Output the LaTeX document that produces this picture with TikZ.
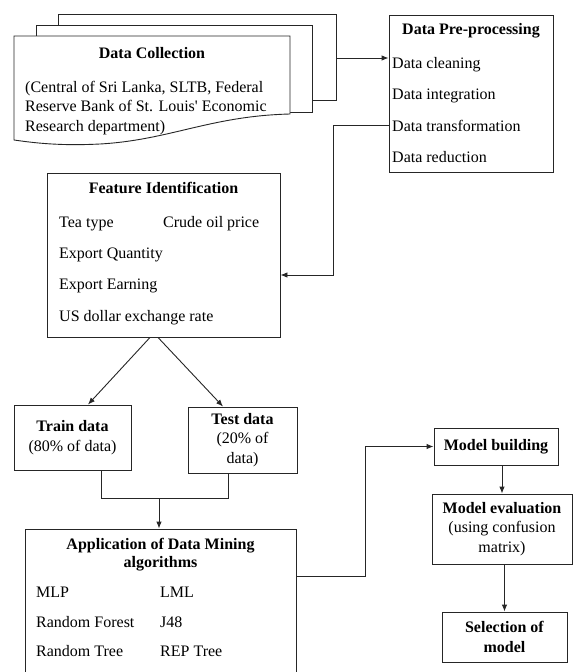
\documentclass[tikz,border=0pt]{standalone}
\usepackage{fontspec}
\setmainfont{Liberation Serif}[Ligatures=TeXOff]
\usetikzlibrary{arrows.meta,calc}
\begin{document}
\begin{tikzpicture}[x=1pt,y=-1pt,
  font=\fontsize{16}{19.5}\selectfont,
  ln/.style={draw=black!85, line width=0.9pt},
  box/.style={ln, fill=white, inner sep=0pt, align=center},
  arr/.style={ln, -{Latex[length=7pt,width=5.5pt]}},
  txt/.style={anchor=base west, inner sep=0pt},
  ttl/.style={anchor=base, inner sep=0pt, font=\fontsize{16}{19.5}\selectfont\bfseries}]
\useasboundingbox (0,0) rectangle (573,672);
\clip (0,0) rectangle (573,672);
\fill[white] (0,0) rectangle (573,672);

% Data collection (multi-document)
\draw[ln, fill=white] (58,14) rectangle (336,100);
\draw[ln, fill=white] (36,25) rectangle (312,112);
\draw[ln, fill=white] (14,36) -- (290,36) -- (290,114) .. controls (210,116) and (170,140) .. (100,144) .. controls (60,146) and (35,143) .. (14,140) -- cycle;
\node[ttl] (dct) at (152,58) {Data Collection};
\node[txt] (dc1) at (25,92) {(Central of Sri Lanka, SLTB, Federal};
\node[txt] (dc2) at (25,111.5) {Reserve Bank of St. Louis' Economic};
\node[txt] (dc3) at (25,131) {Research department)};
\coordinate (dcout) at (336,58);

% Pre-processing
\node[box, minimum width=164pt, minimum height=157pt] (pre) at (471,93.5) {};
\node[ttl] (pret) at (471,34) {Data Pre-processing};
\node[txt] (p1) at (392,68) {Data cleaning};
\node[txt] (p2) at (392,99) {Data integration};
\node[txt] (p3) at (392,131) {Data transformation};
\node[txt] (p4) at (392,162) {Data reduction};
\draw[arr] (dcout) -- (dcout -| pre.west);

% Feature identification
\node[box, minimum width=233pt, minimum height=164pt] (feat) at (163.5,255) {};
\node[ttl] (featt) at (163.5,193) {Feature Identification};
\node[txt] (f1) at (59,227) {Tea type};
\node[txt] (f2) at (163,227) {Crude oil price};
\node[txt] (f3) at (59,258) {Export Quantity};
\node[txt] (f4) at (59,289) {Export Earning};
\node[txt] (f5) at (59,321) {US dollar exchange rate};
\coordinate (bend1) at (333,275);
\draw[arr] (pre.west |- p3) -- (bend1 |- p3) -- (bend1) -- (bend1 -| feat.east);

% Train / Test
\node[box, minimum width=117pt, minimum height=65pt] (train) at (72.5,437.5)
  {\textbf{Train data}\\(80\% of data)};
\node[box, minimum width=109pt, minimum height=66pt] (test) at (242.5,440)
  {\textbf{Test data}\\(20\% of\\data)};
\draw[arr] ($(feat.south)+(-13.5,0)$) -- ($(train.north)+(15.5,0)$);
\draw[arr] ($(feat.south)+(-5.5,0)$) -- ($(test.north)+(-19.5,0)$);

% Application
\node[box, minimum width=271pt, minimum height=171pt] (app) at (160.5,614.5) {};
\node[ttl] (appt1) at (160.5,549) {Application of Data Mining};
\node[ttl] (appt2) at (160.5,567) {algorithms};
\node[txt] (a1) at (36,597) {MLP};
\node[txt] (a2) at (160,597) {LML};
\node[txt] (a3) at (36,627) {Random Forest};
\node[txt] (a4) at (160,627) {J48};
\node[txt] (a5) at (36,656) {Random Tree};
\node[txt] (a6) at (160,656) {REP Tree};
\coordinate (mj) at (159,498);
\draw[ln] ($(train.south)+(28.5,0)$) -- ++(0,28) -| ($(test.south)+(-14.5,0)$);
\draw[arr] (mj) -- (mj |- app.north);

% Model side
\node[box, minimum width=124pt, minimum height=37pt] (mb) at (496,446.5) {\textbf{Model building}};
\node[box, minimum width=140pt, minimum height=70pt] (me) at (502,529)
  {\textbf{Model evaluation}\\(using confusion\\matrix)};
\node[box, minimum width=125pt, minimum height=50pt] (sel) at (504.5,637)
  {\textbf{Selection of}\\\textbf{model}};
\coordinate (bend2) at (365,576);
\draw[arr] (bend2 -| app.east) -- (bend2) |- (mb.west);
\draw[arr] (me.north |- mb.south) -- (me.north);
\draw[arr] (sel.north |- me.south) -- (sel.north);
\end{tikzpicture}
\end{document}
